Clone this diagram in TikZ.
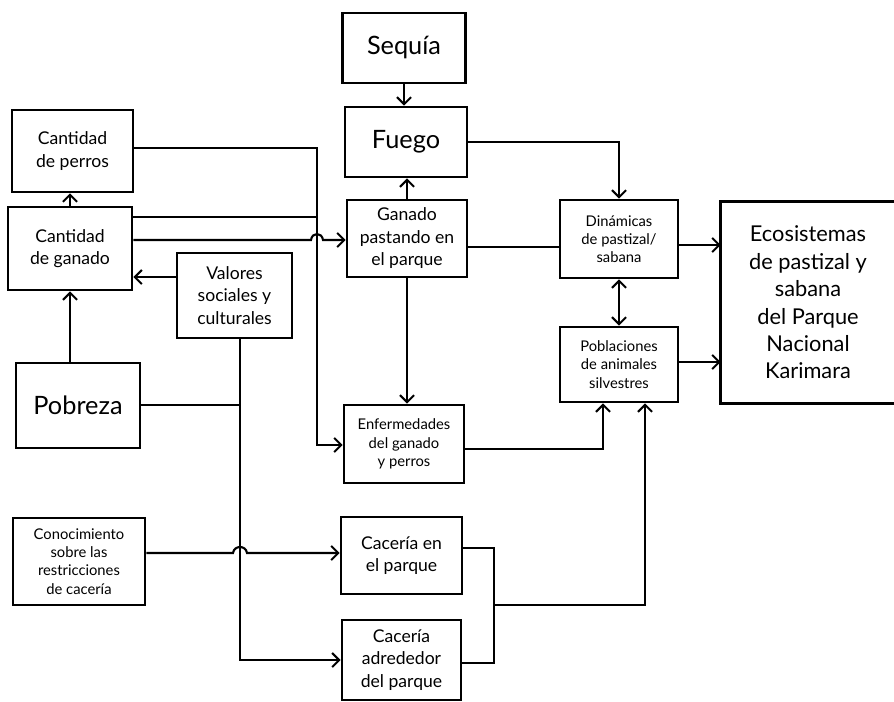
\documentclass[tikz,border=0pt]{standalone}
\usepackage{fontspec}
\setmainfont{Lato}
\usetikzlibrary{arrows.meta}
\newcommand{\px}{0.025cm}

\begin{document}
\begin{tikzpicture}[x=0.025cm,y=-0.025cm]
	\tikzstyle{box}=[draw,line width=1.8pt,align=center,inner sep=2pt,font=\fontsize{12.5}{16}\selectfont]
	\tikzstyle{big box}=[box,font=\fontsize{18}{22}\selectfont]
	\tikzstyle{eco box}=[box,draw=none,font=\fontsize{15.5}{19.5}\selectfont]
	\tikzstyle{small box}=[box,font=\fontsize{10.5}{13}\selectfont]

	\tikzstyle{link}=[-,black,line width=1.5pt]
	\tikzstyle{arrow link}=[link,-{Straight Barb[length=5pt,width=10pt]}]

	\useasboundingbox[fill=white] (0,0) rectangle (894,702);

	\node[big box,minimum width=123*\px,minimum height=70*\px] (sequia) at (404,48) {Sequía};
	\node[big box,minimum width=122*\px,minimum height=70*\px] (fuego) at (406,142) {Fuego};
	\node[box,minimum width=121*\px,minimum height=82*\px] (perros) at (72.5,151) {Cantidad\\de perros};
	\node[box,minimum width=124*\px,minimum height=83*\px] (ganado) at (70,248.5) {Cantidad\\de ganado};
	\node[box,minimum width=115*\px,minimum height=85*\px] (valores) at (234.5,295.5) {Valores\\sociales y\\culturales};
	\node[big box,minimum width=124*\px,minimum height=85*\px] (pobreza) at (78,405.5) {Pobreza};
	\node[small box,minimum width=132*\px,minimum height=87*\px] (conocimiento) at (79,561.5) {Conocimiento\\sobre las\\restricciones\\de cacería};
	\node[box,minimum width=120*\px,minimum height=77*\px] (pastando) at (407,238.5) {Ganado\\pastando en\\el parque};
	\node[small box,minimum width=120*\px,minimum height=78*\px] (enfermedades) at (404,444) {Enfermedades\\del ganado\\y perros};
	\node[box,minimum width=121*\px,minimum height=77*\px] (caceria1) at (401.5,555.5) {Cacería en\\el parque};
	\node[box,minimum width=119*\px,minimum height=80*\px] (caceria2) at (401.5,660) {Cacería\\adrededor\\del parque};
	\node[small box,minimum width=118*\px,minimum height=78*\px] (dinamicas) at (619,239) {Dinámicas\\de pastizal/\\sabana};
	\node[small box,minimum width=118*\px,minimum height=75*\px] (poblaciones) at (619,364.5) {Poblaciones\\de animales\\silvestres};
	\node[eco box,minimum width=172*\px,minimum height=199*\px] (ecosistemas) at (808,302.5) {Ecosistemas\\de pastizal y\\sabana\\del Parque\\Nacional\\Karimara};
	\draw[line width=1.8pt] (ecosistemas.north east) -- (ecosistemas.north west) -- (ecosistemas.south west) -- (ecosistemas.south east);

	\coordinate (perrosjoin) at (317,217);
	\coordinate (pobrezajoin) at (240,405);
	\coordinate (cazajoin) at (494,605);

	\draw[arrow link] (sequia.south) -- (sequia.south |- fuego.north);
	\draw[arrow link] (pastando.north) -- (pastando.north |- fuego.south);
	\draw[arrow link] (fuego.east) -| (dinamicas.north);
	\draw[link] (pastando.east |- 0,247) -- (dinamicas.west |- 0,247);
	\draw[arrow link] (dinamicas.east |- 0,245) -- (ecosistemas.west |- 0,245);
	\draw[link,{Straight Barb[length=5pt,width=10pt]}-{Straight Barb[length=5pt,width=10pt]}] (dinamicas.south) -- (poblaciones.north);
	\draw[arrow link] (poblaciones.east |- 0,362) -- (ecosistemas.west |- 0,362);

	\draw[arrow link] (ganado.north) -- (ganado.north |- perros.south);
	\draw[arrow link] (ganado.south |- pobreza.north) -- (ganado.south);
	\draw[arrow link] (valores.west |- 0,277) -- (ganado.east |- 0,277);
	\draw[arrow link] (perros.east |- 0,148) -| (317,445) -- (enfermedades.west |- 0,445);
	\draw[link] (ganado.east |- 0,217) -- (perrosjoin);
	\draw[arrow link] (ganado.east |- 0,240) -- (311,240) .. controls (312,232) and (322,232) .. (323,240) -- (pastando.west |- 0,240);
	\draw[arrow link] (pastando.south) -- (pastando.south |- enfermedades.north);
	\draw[arrow link] (enfermedades.east |- 0,449) -| (poblaciones.south -| 603,0);

	\draw[link] (pobreza.east |- 0,405) -- (pobrezajoin);
	\draw[arrow link] (valores.south -| 240,0) |- (caceria2.west |- 0,660);
	\draw[arrow link] (conocimiento.east |- 0,553) -- (233,553) .. controls (234,545) and (246,545) .. (247,553) -- (caceria1.west |- 0,553);

	\draw[link] (caceria1.east |- 0,548) -| (494,663) -- (caceria2.east |- 0,663);
	\draw[arrow link] (cazajoin) -| (poblaciones.south -| 645,0);
\end{tikzpicture}
\end{document}
